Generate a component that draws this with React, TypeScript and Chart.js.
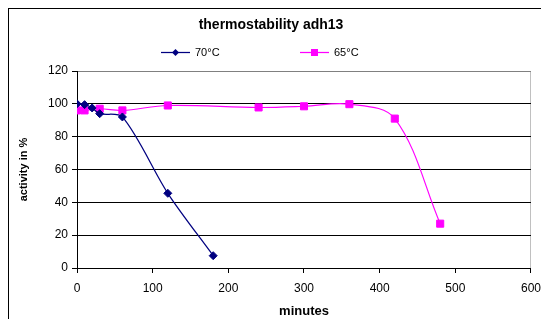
import React, { useEffect, useRef } from "react";
import { Chart, registerables } from "chart.js";

Chart.register(...registerables);

const chartTitle = "thermostability adh13";
const xTitle = "minutes";
const yTitle = "activity in %";

const label70 = "70°C";
const minutes70 = [0, 10, 20, 30, 60, 120, 180];
const activity70 = [100, 99.5, 97.5, 94, 92, 45.5, 7.5];

const label65 = "65°C";
const minutes65 = [0, 10, 30, 60, 120, 240, 300, 360, 420, 480];
const activity65 = [96, 96, 97, 96, 99, 97.8, 98.5, 99.8, 91, 27];

const xTicks = { min: 0, max: 600, step: 100 };
const yTicks = { min: 0, max: 120, step: 20 };

const NAVY = "#000080";
const MAGENTA = "#FF00FF";
const FONT = "'Liberation Sans', Arial, sans-serif";

const legendPlugin = {
  id: "excelLegend",
  afterDraw(chart: any) {
    const ctx = chart.ctx;
    const y = 43;
    const items = [
      { text: label70, color: NAVY, shape: "diamond", x0: 152 },
      { text: label65, color: MAGENTA, shape: "square", x0: 291 },
    ];
    ctx.save();
    ctx.font = `11px ${FONT}`;
    ctx.textBaseline = "middle";
    ctx.textAlign = "left";
    for (const it of items) {
      ctx.strokeStyle = it.color;
      ctx.fillStyle = it.color;
      ctx.lineWidth = 1.25;
      ctx.beginPath();
      ctx.moveTo(it.x0, y + 0.5);
      ctx.lineTo(it.x0 + 29, y + 0.5);
      ctx.stroke();
      const cx = it.x0 + 14.5;
      ctx.beginPath();
      if (it.shape === "diamond") {
        const r = 3.5;
        ctx.moveTo(cx, y + 0.5 - r);
        ctx.lineTo(cx + r, y + 0.5);
        ctx.lineTo(cx, y + 0.5 + r);
        ctx.lineTo(cx - r, y + 0.5);
        ctx.closePath();
        ctx.fill();
      } else {
        ctx.fillRect(cx - 3.5, y - 3, 7, 7);
      }
      ctx.fillStyle = "#000";
      ctx.fillText(it.text, it.x0 + 34, y + 1);
    }
    ctx.restore();
  },
};

export default function App() {
  const ref = useRef<HTMLCanvasElement>(null);

  useEffect(() => {
    document.body.style.overflow = "hidden";
    Chart.defaults.font.family = FONT;
    Chart.defaults.color = "#000";
    const chart = new Chart(ref.current!, {
      type: "line",
      data: {
        datasets: [
          {
            label: label70,
            data: minutes70.map((m, i) => ({ x: m, y: activity70[i] })),
            borderColor: NAVY,
            backgroundColor: NAVY,
            borderWidth: 1.25,
            pointStyle: "rectRot",
            pointRadius: 4,
            pointBackgroundColor: NAVY,
            pointBorderColor: NAVY,
            pointBorderWidth: 1,
            tension: 0.3,
          },
          {
            label: label65,
            data: minutes65.map((m, i) => ({ x: m, y: activity65[i] })),
            borderColor: MAGENTA,
            backgroundColor: MAGENTA,
            borderWidth: 1.1,
            pointStyle: "rect",
            pointRadius: 5,
            pointBackgroundColor: MAGENTA,
            pointBorderColor: MAGENTA,
            pointBorderWidth: 1,
            tension: 0.35,
          },
        ],
      },
      options: {
        animation: false,
        responsive: false,
        devicePixelRatio: 1,
        layout: { padding: { left: 0, right: 16, top: 0, bottom: 0 } },
        plugins: {
          legend: { display: false },
          tooltip: { enabled: false },
          title: {
            display: true,
            text: chartTitle,
            color: "#000",
            font: { size: 14, weight: "bold", family: FONT },
            padding: { top: 7.6, bottom: 37.6 },
          },
        },
        scales: {
          x: {
            type: "linear",
            min: xTicks.min,
            max: xTicks.max,
            ticks: {
              stepSize: xTicks.step,
              color: "#000",
              font: { size: 12, family: FONT },
              padding: 8,
              maxRotation: 0,
            },
            grid: {
              drawOnChartArea: true,
              color: (c: any) => (c.tick && c.tick.value === xTicks.max ? "#c0c0c0" : "rgba(0,0,0,0)"),
              tickColor: "#000",
              tickLength: 5,
            },
            border: { color: "#000", width: 1 },
            title: {
              display: true,
              text: xTitle,
              color: "#000",
              font: { size: 13, weight: "bold", family: FONT },
              padding: { top: 0, bottom: 0 },
            },
            afterFit: (s: any) => {
              s.height = 51;
            },
          },
          y: {
            min: yTicks.min,
            max: yTicks.max,
            ticks: {
              stepSize: yTicks.step,
              color: "#000",
              font: { size: 12, family: FONT },
              padding: 4,
            },
            grid: {
              color: (c: any) => (c.tick && c.tick.value === yTicks.max ? "#808080" : "#000"),
              tickColor: "#000",
              tickLength: 5,
            },
            border: { color: "#000", width: 1 },
            title: {
              display: true,
              text: yTitle,
              color: "#000",
              font: { size: 11, weight: "bold", family: FONT },
              padding: { top: 8, bottom: 0 },
            },
            afterFit: (s: any) => {
              s.width = 68;
            },
          },
        },
      },
      plugins: [legendPlugin],
    });
    return () => chart.destroy();
  }, []);

  return (
    <div
      style={{
        borderTop: "1px solid #000",
        borderLeft: "1px solid #000",
        width: 541,
        height: 310,
      }}
    >
      <canvas ref={ref} width={540} height={310} style={{ display: "block" }} />
    </div>
  );
}
